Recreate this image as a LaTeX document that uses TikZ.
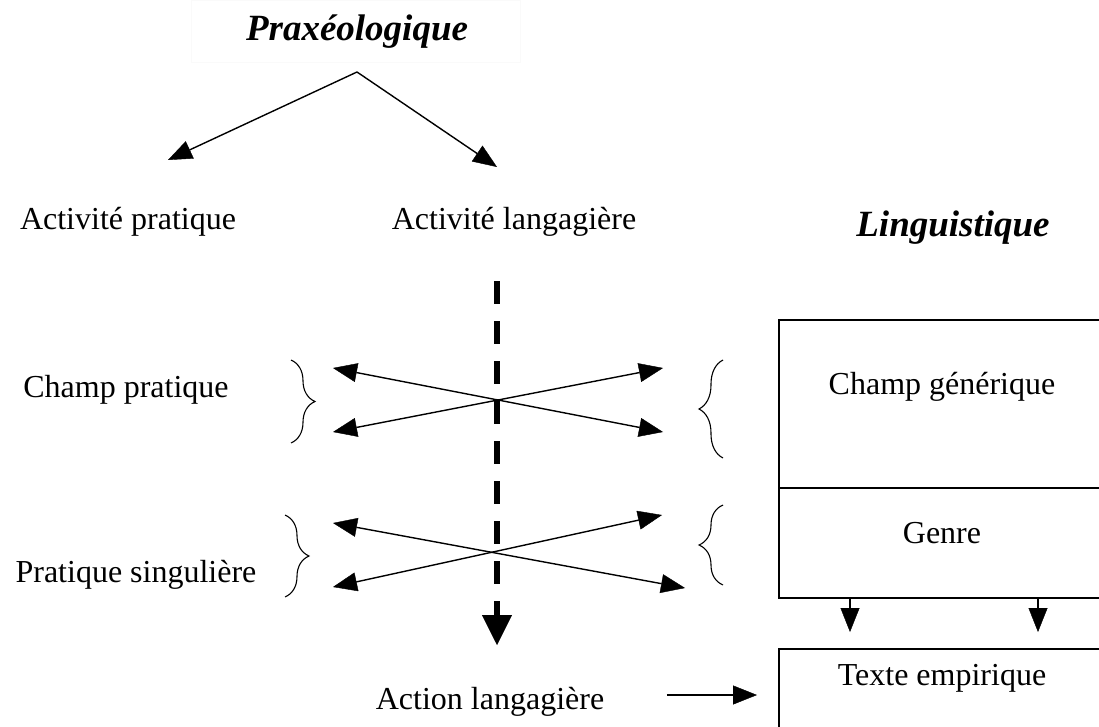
\documentclass[tikz,border=0pt]{standalone}
\usepackage{fontspec}
\setmainfont{Liberation Serif}
\usetikzlibrary{arrows.meta,decorations.pathreplacing}

\begin{document}
\begin{tikzpicture}[x=1pt, y=-1pt, line width=1.4pt,
    tri/.tip={Triangle[length=24pt,width=19pt,line width=0.4pt]},
    tip/.style={-tri},
    both/.style={tri-tri},
    lbl/.style={font=\fontsize{32}{38}\selectfont, inner sep=0pt},
    ttl/.style={font=\fontsize{37}{44}\selectfont\bfseries\itshape, inner sep=0pt},
    brc/.style={decorate, decoration={brace, amplitude=24pt}, line width=1.1pt}]
    \clip (0,0) rectangle (1099,727);
    \fill[white] (0,0) rectangle (1099,727);
    \coordinate (apex) at (357,72);
    \coordinate (PL) at (168,160);
    \coordinate (PR) at (497,167);
    \coordinate (A1) at (333,368);
    \coordinate (B1) at (663,368);
    \coordinate (C1) at (333,432);
    \coordinate (D1) at (663,432);
    \coordinate (A2) at (333,523);
    \coordinate (B2) at (662,515);
    \coordinate (C2) at (333,587);
    \coordinate (D2) at (685,588);
    \coordinate (dtop) at (497,281);
    \coordinate (dend) at (497,645);
    \coordinate (G1) at (850,632);
    \coordinate (G2) at (1038,632);
    \coordinate (T) at (757,695);
    \draw[black!2, line width=1pt] (191,1) rectangle (520,63);
    \draw[tip] (apex) -- (PL);
    \draw[tip] (apex) -- (PR);
    \draw[line width=5.5pt, dash pattern=on 23pt off 17pt, -{Triangle[length=30pt,width=30pt,line width=0.4pt]}] (dtop) -- (dend);
    \draw[both] (A1) -- (D1);
    \draw[both] (C1) -- (B1);
    \draw[both] (A2) -- (D2);
    \draw[both] (C2) -- (B2);
    \draw[brc] (291,360) -- (291,443);
    \draw[brc] (285,515) -- (285,597);
    \draw[brc] (723,458) -- (723,360);
    \draw[brc] (723,585) -- (723,505);
    \draw[line width=1.6pt] (779,488) rectangle (1120,598);
    \draw[line width=1.6pt] (779,320) rectangle (1120,488);
    \draw[line width=1.6pt] (779,649) rectangle (1120,760);
    \draw[tip] (G1 |- 0,598) -- (G1);
    \draw[tip] (G2 |- 0,598) -- (G2);
    \node[ttl] (prax) at (357,32) {Praxéologique};
    \node[ttl] (ling) at (953,228) {Linguistique};
    \node[lbl] (actp) at (128,222) {Activité pratique};
    \node[lbl] (actl) at (514,222) {Activité langagière};
    \node[lbl] (chp) at (126,390) {Champ pratique};
    \node[lbl] (prs) at (136,575) {Pratique singulière};
    \node[lbl] (chg) at (942,387) {Champ générique};
    \node[lbl] (gen) at (942,533) {Genre};
    \node[lbl] (tex) at (942,678) {Texte empirique};
    \node[lbl] (act) at (490,702) {Action langagière};
    \draw[tip] (act.east |- T) ++(62,0) -- (T);
\end{tikzpicture}
\end{document}
